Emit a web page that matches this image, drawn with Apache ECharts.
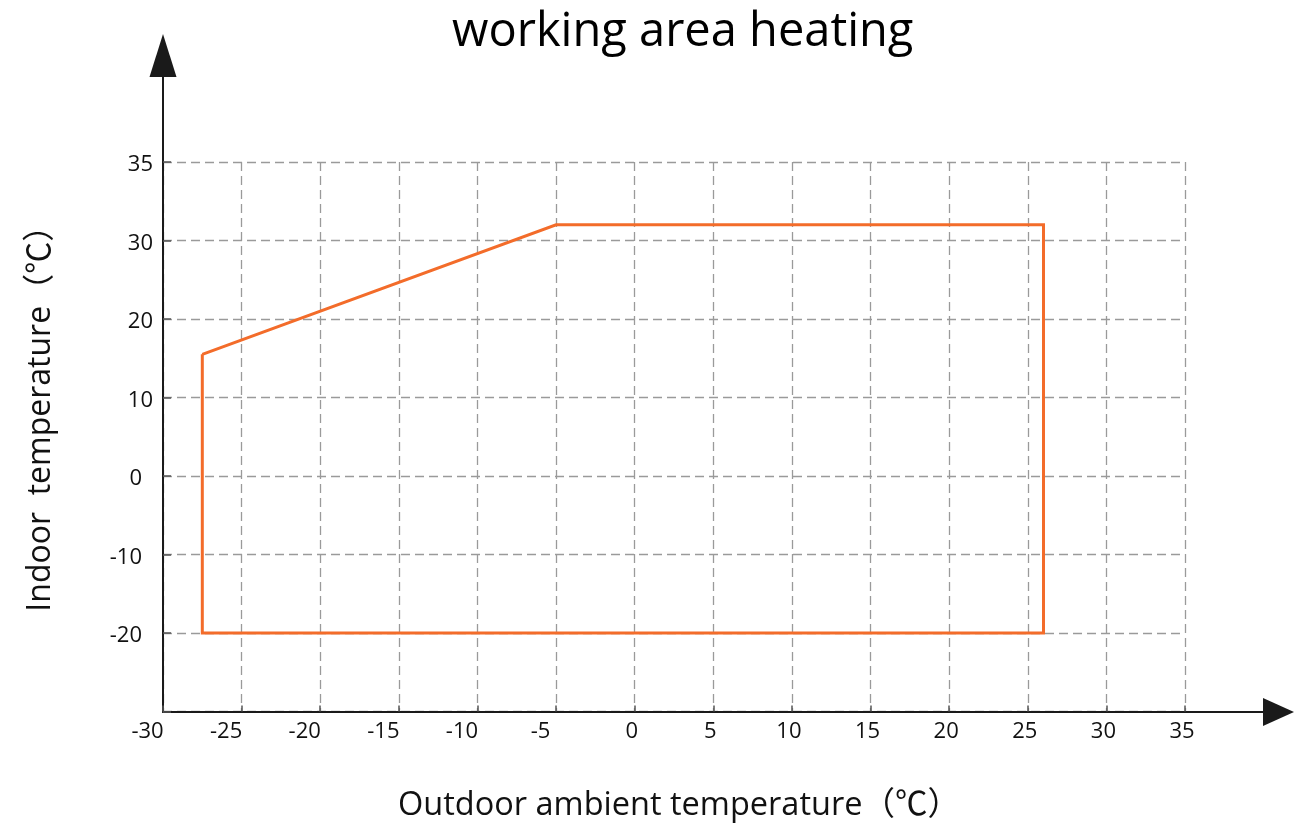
<!DOCTYPE html>
<html><head><meta charset="utf-8">
<script src="https://cdn.jsdelivr.net/npm/echarts@6/dist/echarts.min.js"></script>
<style>html,body{margin:0;padding:0;background:#fff}#c{width:1294px;height:827px}</style>
</head><body><div id="c"></div>
<script>
// ---- data ----
const titleText = 'working area heating';
const xName = 'Outdoor ambient temperature（℃）';
const yName = 'Indoor  temperature（℃）';
const xMin = -30, xMax = 35, xStep = 5;
// y axis of the original is drawn with evenly spaced (non-linear) ticks
const yTickValues = [-30, -20, -10, 0, 10, 20, 30, 35];
const yTickLabels = ['', '-20', '-10', '0', '10', '20', '30', '35'];
// working envelope (closed outline)
const outdoorTemp = [-27.5, -5, 26, 26, -27.5, -27.5];
const indoorTemp  = [15.5, 31, 31, -20, -20, 15.5];

// piecewise map of a real value onto the evenly spaced tick positions
function toTickPos(v) {
  for (let i = 0; i < yTickValues.length - 1; i++) {
    const a = yTickValues[i], b = yTickValues[i + 1];
    if (v >= a && v <= b) return i + (v - a) / (b - a);
  }
  return v < yTickValues[0] ? 0 : yTickValues.length - 1;
}
const outline = outdoorTemp.map((x, i) => [x, toTickPos(indoorTemp[i])]);

const FONT = "'Open Sans', 'Noto Sans CJK SC', sans-serif";
const TXT = '#111';
const gridLine = { show: true, lineStyle: { color: '#9a9a9a', width: 1.3, type: [9, 5] } };

const chart = echarts.init(document.getElementById('c'), null, { renderer: 'canvas' });
chart.setOption({
  animation: false,
  backgroundColor: '#fff',
  title: {
    text: titleText, left: 447, top: 4,
    textStyle: { fontFamily: FONT, fontSize: 47, fontWeight: 'normal', color: '#000' }
  },
  grid: [
    { left: 163, right: 109, top: 162, bottom: 115 },
    { left: 163, right: 15.5, top: 55.5, bottom: 115 }
  ],
  xAxis: [
    {
      type: 'value', gridIndex: 0, min: xMin, max: xMax, interval: xStep,
      axisLine: { show: false, onZero: false },
      axisTick: { show: true, inside: true, length: 6, lineStyle: { color: '#555', width: 1.5 } },
      splitLine: gridLine,
      axisLabel: {
        margin: 9, color: TXT, fontFamily: FONT, fontSize: 22,
        formatter: v => (v < 0 ? '{n|' : '{p|') + v + '}',
        rich: {
          n: { fontFamily: FONT, fontSize: 22, color: TXT, padding: [0, 31, 0, 0] },
          p: { fontFamily: FONT, fontSize: 22, color: TXT, padding: [0, 6, 0, 0] }
        }
      },
      name: xName, nameLocation: 'middle', nameGap: 78,
      nameTextStyle: { fontFamily: FONT, fontSize: 32.5, color: TXT, padding: [0, 0, 0, 10] }
    },
    {
      type: 'value', gridIndex: 1, min: 0, max: 1,
      axisLine: { show: true, onZero: false, symbol: ['none', 'triangle'], symbolSize: [28, 31],
        lineStyle: { color: '#1a1a1a', width: 2 } },
      axisTick: { show: false }, axisLabel: { show: false }, splitLine: { show: false }
    }
  ],
  yAxis: [
    {
      type: 'value', gridIndex: 0, min: 0, max: yTickValues.length - 1, interval: 1,
      axisLine: { show: false, onZero: false },
      axisTick: { show: true, inside: true, length: 8, lineStyle: { color: '#555', width: 1.5 } },
      splitLine: gridLine,
      axisLabel: {
        margin: 10, color: TXT, fontFamily: FONT, fontSize: 22,
        formatter: v => {
          const s = yTickLabels[v] || '';
          if (!s) return '';
          return (Number(s) <= 0 ? '{n|' : '{p|') + s + '}';
        },
        rich: {
          n: { fontFamily: FONT, fontSize: 22, color: TXT, padding: [6, 11, 0, 0] },
          p: { fontFamily: FONT, fontSize: 22, color: TXT, padding: [6, 0, 0, 0] }
        }
      },
      name: yName, nameLocation: 'middle', nameGap: 106, nameRotate: 90,
      nameTextStyle: { fontFamily: FONT, fontSize: 32, color: TXT, padding: [0, 0, 0, 52] }
    },
    {
      type: 'value', gridIndex: 1, min: 0, max: 1,
      axisLine: { show: true, onZero: false, symbol: ['none', 'triangle'], symbolSize: [27, 43],
        lineStyle: { color: '#1a1a1a', width: 2 } },
      axisTick: { show: false }, axisLabel: { show: false }, splitLine: { show: false }
    }
  ],
  series: [{
    type: 'line', xAxisIndex: 0, yAxisIndex: 0,
    data: outline, symbol: 'none', showSymbol: false, z: 5,
    lineStyle: { color: '#F36C2A', width: 3, join: 'miter' }
  }]
});
</script></body></html>
